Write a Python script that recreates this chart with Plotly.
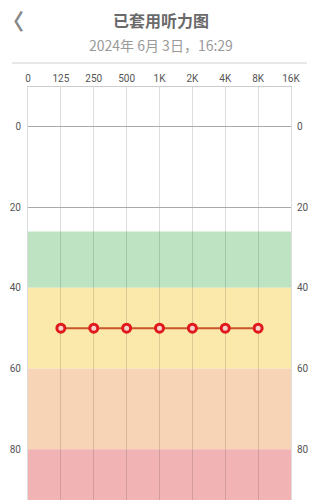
import plotly.graph_objects as go

# ---- data ----
freq_labels = ["0", "125", "250", "500", "1K", "2K", "4K", "8K", "16K"]
test_freqs = ["125", "250", "500", "1K", "2K", "4K", "8K"]
hearing_db = [50, 50, 50, 50, 50, 50, 50]
db_ticks = [0, 20, 40, 60, 80]
major_grid_db = [0, 20]
band_edges = [26, 40, 60, 80, 130]
band_colors = ["#bde3c3", "#fbe9ab", "#f6d4b5", "#f2b3b5"]

title_text = "已套用听力图"
date_text = "2024年 6月 3日，16:29"

W, H = 321, 500
L, R, T, B = 28, 30, 87, 0
PH = H - T - B

def py(p):  # pixel y -> paper y
    return (H - B - p) / PH

def px(p):  # pixel x -> paper x
    return (p - L) / (W - L - R)

y_range = [92.6, -9.8]

fig = go.Figure()

fig.add_trace(go.Scatter(
    x=test_freqs, y=hearing_db, mode="lines+markers",
    line=dict(color="#c9552a", width=2),
    marker=dict(symbol="circle", size=8, color="#f7d2cc",
                line=dict(color="#e0191c", width=3)),
    hoverinfo="skip", showlegend=False,
))
# invisible traces to activate extra axes
fig.add_trace(go.Scatter(x=test_freqs, y=hearing_db, yaxis="y2", mode="none",
                         showlegend=False, hoverinfo="skip"))
fig.add_trace(go.Scatter(x=test_freqs, y=hearing_db, yaxis="y3", mode="none",
                         showlegend=False, hoverinfo="skip"))

shapes = []
for i, c in enumerate(band_colors):
    shapes.append(dict(type="rect", xref="x domain", yref="y",
                       x0=0, x1=1, y0=band_edges[i], y1=band_edges[i + 1],
                       fillcolor=c, line=dict(width=0), layer="below"))
# header separator
shapes.append(dict(type="line", xref="paper", yref="paper",
                   x0=px(12), x1=px(307), y0=py(63), y1=py(63),
                   line=dict(color="#cfcfcf", width=1)))

tickfont = dict(family="Roboto, sans-serif", size=10, color="#555555")
gridc = "rgba(0,0,0,0.13)"

fig.update_layout(
    width=W, height=H,
    margin=dict(l=L, r=R, t=T, b=B, pad=0),
    paper_bgcolor="white", plot_bgcolor="white",
    shapes=shapes,
    xaxis=dict(type="category", categoryorder="array", categoryarray=freq_labels,
               tickvals=freq_labels, range=[0, 8], side="top",
               showgrid=True, gridcolor=gridc, gridwidth=1,
               showline=True, linecolor="#cccccc", linewidth=1,
               ticks="", tickfont=tickfont, zeroline=False, fixedrange=True),
    yaxis=dict(range=y_range, tickvals=db_ticks, showgrid=False, zeroline=False,
               ticks="", tickfont=tickfont, showline=True, linecolor=gridc,
               mirror=True, ticklabelstandoff=4, fixedrange=True),
    yaxis2=dict(range=y_range, tickvals=db_ticks, overlaying="y", side="right",
                showgrid=False, zeroline=False, ticks="", tickfont=tickfont,
                showline=False, ticklabelstandoff=5, fixedrange=True),
    yaxis3=dict(range=y_range, tickvals=major_grid_db, overlaying="y",
                showgrid=True, gridcolor="#a9a9a9", gridwidth=1,
                showticklabels=False, zeroline=False, ticks="", fixedrange=True),
    annotations=[
        dict(text="<b>" + title_text + "</b>", xref="paper", yref="paper",
             x=px(160.5), y=py(20),
             showarrow=False, xanchor="center", yanchor="middle",
             font=dict(family="Noto Sans CJK SC", size=16, color="#6a6a6a")),
        dict(text=date_text, xref="paper", yref="paper", x=px(160.5), y=py(45),
             showarrow=False, xanchor="center", yanchor="middle",
             font=dict(family="Noto Sans CJK SC", size=14, color="#9a9a9a")),
        dict(text="<b>〈</b>", xref="paper", yref="paper", x=px(0), y=py(19),
             showarrow=False, xanchor="left", yanchor="middle",
             font=dict(family="Noto Sans CJK SC", size=22, color="#888888")),
    ],
)

fig.write_html("out.html", config={"displayModeBar": False})
